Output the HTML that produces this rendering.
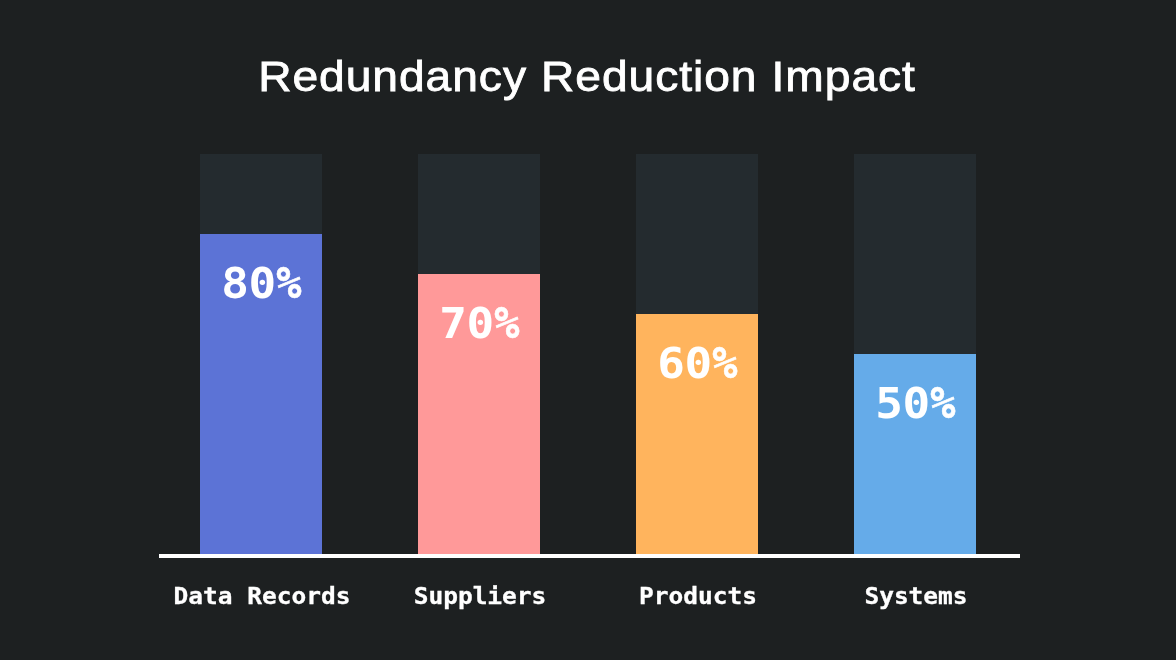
<!DOCTYPE html>
<html lang="en">
<head>
<meta charset="utf-8">
<title>Redundancy Reduction Impact</title>
<style>
  html,body{margin:0;padding:0;}
  body{width:1176px;height:660px;background:#1d2021;overflow:hidden;position:relative;
       font-family:"Liberation Sans",sans-serif;color:#fff;}
  .title{position:absolute;left:0;top:49px;width:1174px;text-align:center;
         font-family:"Liberation Sans",sans-serif;font-size:42px;line-height:56px;font-weight:400;
         letter-spacing:0.85px;word-spacing:0.3px;-webkit-text-stroke:0.8px #fff;transform:scaleX(1.1);transform-origin:50% 50%;white-space:nowrap;color:#fff;margin:0;}
  .track{position:absolute;top:154px;width:122px;height:400px;background:#242b2f;}
  .fill{position:absolute;left:0;bottom:0;width:122px;}
  .val{position:absolute;left:-39px;width:202px;text-align:center;transform:scaleY(0.93);transform-origin:50% 50%;
       letter-spacing:-0.55px;
       font-family:"DejaVu Sans Mono","Liberation Mono",monospace;font-weight:700;
       font-size:46px;line-height:50px;color:#fff;white-space:nowrap;}
  .pc{display:inline-block;-webkit-text-stroke:0.6px #fff;transform:translate(-1px,-0.4px) scale(0.91,1.055);transform-origin:50% 50%;}
  .axis{position:absolute;left:159px;top:554px;width:861px;height:4px;background:#fff;}
  .lbl{position:absolute;top:581px;width:300px;text-align:center;
       font-family:"DejaVu Sans Mono","Liberation Mono",monospace;font-weight:700;
       font-size:23px;letter-spacing:0px;transform:scaleX(1.065);transform-origin:50% 50%;-webkit-text-stroke:0.3px #fff;line-height:30px;color:#fff;white-space:nowrap;}
</style>
</head>
<body>
  <h1 class="title">Redundancy Reduction Impact</h1>

  <div class="track" style="left:200px"><div class="fill" style="height:320px;background:#5c73d6"><div class="val" style="top:24px">80<span class="pc">%</span></div></div></div>
  <div class="track" style="left:418px"><div class="fill" style="height:280px;background:#ff9999"><div class="val" style="top:24px">70<span class="pc">%</span></div></div></div>
  <div class="track" style="left:636px"><div class="fill" style="height:240px;background:#ffb45d"><div class="val" style="top:24px">60<span class="pc">%</span></div></div></div>
  <div class="track" style="left:854px"><div class="fill" style="height:200px;background:#65abe9"><div class="val" style="top:24px">50<span class="pc">%</span></div></div></div>

  <div class="axis"></div>

  <div class="lbl" style="left:112px">Data Records</div>
  <div class="lbl" style="left:330px">Suppliers</div>
  <div class="lbl" style="left:548px">Products</div>
  <div class="lbl" style="left:766px">Systems</div>
</body>
</html>
